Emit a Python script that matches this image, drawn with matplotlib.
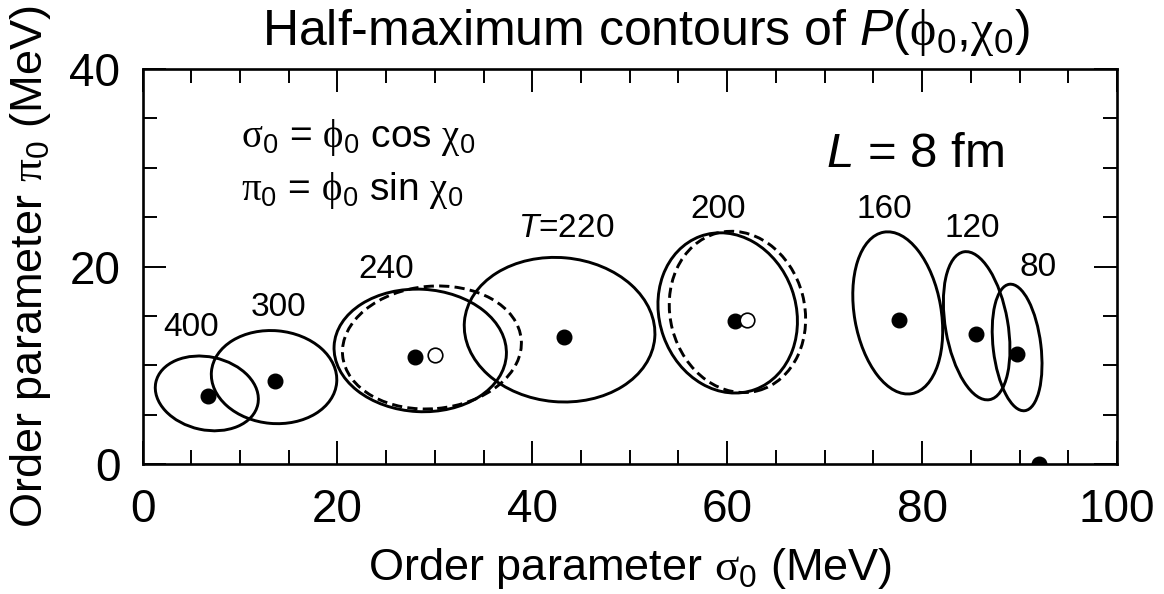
import matplotlib
matplotlib.use("Agg")
import matplotlib.pyplot as plt
from matplotlib.patches import Ellipse
from matplotlib.ticker import MultipleLocator

plt.rcParams['font.family'] = ['Liberation Sans', 'DejaVu Sans']
plt.rcParams['mathtext.fontset'] = 'custom'
plt.rcParams['mathtext.rm'] = 'Liberation Sans'
plt.rcParams['mathtext.it'] = 'Liberation Sans:italic'
plt.rcParams['mathtext.sf'] = 'Liberation Serif'

# ── half-maximum contours (solid): centre, full widths, tilt in degrees ──
solid_cx = [6.6, 13.5, 28.5, 42.8, 60.05, 77.5, 85.6, 89.75]
solid_cy = [7.15, 8.8, 11.5, 13.6, 15.3, 15.3, 14.0, 11.8]
solid_w = [10.7, 12.9, 17.7, 19.6, 14.0, 8.9, 6.4, 4.9]
solid_h = [7.4, 9.4, 12.4, 14.6, 16.5, 16.6, 15.2, 12.9]
solid_ang = [-12, -5, -3, -5, 20, 10, 10, 7]

# ── dashed contours (T = 240 and 200) ──
dash_cx = [29.7, 61.05]
dash_cy = [11.8, 15.4]
dash_w = [18.4, 13.8]
dash_h = [12.4, 16.5]
dash_ang = [5, 15]

# ── peak positions ──
filled_x = [6.7, 13.6, 28.0, 43.3, 60.75, 77.6, 85.55, 89.7, 92.0]
filled_y = [6.85, 8.4, 10.8, 12.85, 14.45, 14.55, 13.2, 11.1, 0.0]
open_x = [30.0, 62.0]
open_y = [11.05, 14.57]

# ── temperature labels ──
temp_labels = ["400", "300", "240", r"$\mathit{T}$=220", "200", "160", "120", "80"]
label_x = [5.0, 14.0, 25.0, 43.5, 59.1, 76.1, 85.1, 91.9]
label_y = [13.8, 15.85, 19.7, 23.8, 25.8, 25.8, 23.8, 19.85]

fig = plt.figure(figsize=(11.64, 5.94), dpi=100)
ax = fig.add_axes([142.5 / 1164, 1 - 464 / 594, 974.5 / 1164, 395 / 594])

for cx, cy, w, h, a in zip(solid_cx, solid_cy, solid_w, solid_h, solid_ang):
    ax.add_patch(Ellipse((cx, cy), w, h, angle=a, fill=False,
                         edgecolor="black", linewidth=2.1))
for cx, cy, w, h, a in zip(dash_cx, dash_cy, dash_w, dash_h, dash_ang):
    ax.add_patch(Ellipse((cx, cy), w, h, angle=a, fill=False,
                         edgecolor="black", linewidth=2.1,
                         linestyle=(0, (3.5, 1.8))))

ax.plot(filled_x, filled_y, "o", color="black", markersize=10.5, zorder=5)
ax.plot(open_x, open_y, "o", markerfacecolor="white", markeredgecolor="black",
        markeredgewidth=1.2, markersize=10.5, zorder=5)

for txt, x, y in zip(temp_labels, label_x, label_y):
    ax.text(x, y, txt, fontsize=24, ha="center", va="center")

ax.text(10.1, 32.1, r"$\mathsf{\sigma}_0$ = $\mathsf{\phi}_0$ cos $\mathsf{\chi}_0$",
        fontsize=28, ha="left", va="baseline")
ax.text(10.1, 26.7, r"$\mathsf{\pi}_0$ = $\mathsf{\phi}_0$ sin $\mathsf{\chi}_0$",
        fontsize=28, ha="left", va="baseline")
ax.text(79.3, 30.1, r"$\mathit{L}$ = 8 fm", fontsize=35.5, ha="center", va="baseline")

ax.set_xlim(0, 100)
ax.set_ylim(0, 40)
ax.xaxis.set_major_locator(MultipleLocator(20))
ax.xaxis.set_minor_locator(MultipleLocator(5))
ax.yaxis.set_major_locator(MultipleLocator(20))
ax.yaxis.set_minor_locator(MultipleLocator(5))
ax.tick_params(which="both", direction="in", top=True, right=True, width=1.4)
ax.tick_params(which="major", length=16.5, labelsize=33)
ax.tick_params(axis="x", which="major", pad=17)
ax.tick_params(axis="y", which="major", pad=16)
ax.tick_params(which="minor", length=10)
for s in ax.spines.values():
    s.set_linewidth(1.9)

ax.text(0.5, (464 - 580) / 395, r"Order parameter $\mathsf{\sigma}_0$ (MeV)",
        transform=ax.transAxes, fontsize=32.5, ha="center", va="baseline")
ax.text((42 - 142.5) / 974.5, 0.5, r"Order parameter $\mathsf{\pi}_0$ (MeV)",
        transform=ax.transAxes, fontsize=32.5, ha="center", va="baseline",
        rotation=90, rotation_mode="anchor")
ax.text((646 - 142.5) / 974.5, (464 - 45) / 395,
        r"Half-maximum contours of $\mathit{P}$($\mathsf{\phi}_0$,$\mathsf{\chi}_0$)",
        transform=ax.transAxes, fontsize=36, ha="center", va="baseline")

fig.savefig("out.png", dpi=100)
